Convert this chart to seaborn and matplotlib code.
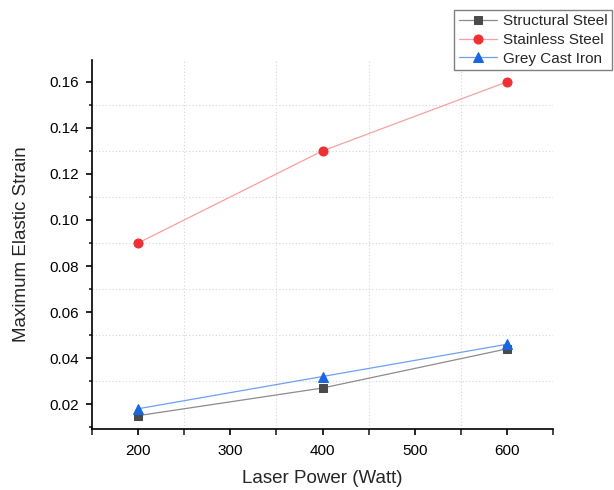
import matplotlib
matplotlib.use("Agg")
import matplotlib.pyplot as plt
import seaborn as sns
import pandas as pd
from matplotlib.ticker import MultipleLocator

sns.set_style("ticks")
plt.rcParams['font.family'] = ['Liberation Sans', 'DejaVu Sans']

power = [200, 400, 600]
structural = [0.015, 0.027, 0.044]
stainless = [0.090, 0.130, 0.160]
grey_iron = [0.018, 0.032, 0.046]
series_names = ["Structural Steel", "Stainless Steel", "Grey Cast Iron"]

df = pd.DataFrame({
    "power": power * 3,
    "strain": structural + stainless + grey_iron,
    "material": [series_names[0]] * 3 + [series_names[1]] * 3 + [series_names[2]] * 3,
})

fig = plt.figure(figsize=(6.14, 4.90), dpi=100)
ax = fig.add_axes([0.150, 0.1245, 0.7507, 0.7531])

line_colors = {series_names[0]: "#8c8c8c", series_names[1]: "#f7a0a0", series_names[2]: "#6ea0f0"}
marker_colors = {series_names[0]: "#4a4a4a", series_names[1]: "#ee3035", series_names[2]: "#1a66e0"}
markers = {series_names[0]: "s", series_names[1]: "o", series_names[2]: "^"}
sizes = {series_names[0]: 5.5, series_names[1]: 6.5, series_names[2]: 7}

for name in series_names:
    sub = df[df.material == name]
    sns.lineplot(data=sub, x="power", y="strain", ax=ax, color=line_colors[name],
                 lw=0.9, marker=markers[name], markersize=sizes[name],
                 markerfacecolor=marker_colors[name], markeredgecolor=marker_colors[name],
                 label=name, legend=False)

ax.set_xlim(150, 650)
ax.set_ylim(0.0092, 0.1695)
ax.xaxis.set_major_locator(MultipleLocator(100))
ax.xaxis.set_minor_locator(MultipleLocator(50))
ax.yaxis.set_major_locator(MultipleLocator(0.02))
ax.yaxis.set_minor_locator(MultipleLocator(0.01))
ax.yaxis.set_major_formatter(matplotlib.ticker.FormatStrFormatter("%.2f"))

# grid at minor-only positions (Origin style)
for xv in [250, 350, 450, 550]:
    ax.axvline(xv, color="#d6d6d6", lw=0.8, ls=(0, (1, 2)), zorder=0)
for yv in [0.03, 0.05, 0.07, 0.09, 0.11, 0.13, 0.15]:
    ax.axhline(yv, color="#d6d6d6", lw=0.8, ls=(0, (1, 2)), zorder=0)

for s in ["top", "right"]:
    ax.spines[s].set_visible(False)
for s in ["left", "bottom"]:
    ax.spines[s].set_linewidth(1.2)
    ax.spines[s].set_color("black")
ax.tick_params(which="major", length=4.5, width=1.2, labelsize=11, colors="black",
               direction="out", pad=5)
ax.tick_params(which="minor", length=2.5, width=1.2, direction="out")
ax.tick_params(axis="x", which="major", length=4.5, pad=6)
ax.tick_params(axis="x", which="minor", length=4)

ax.set_xlabel("Laser Power (Watt)", fontsize=13.5, labelpad=9)
ax.set_ylabel("Maximum Elastic Strain", fontsize=13.5, labelpad=14)

leg = fig.legend(loc="upper right", bbox_to_anchor=(0.997, 0.98), fontsize=11,
                 frameon=True, fancybox=False, edgecolor="#808080", framealpha=1,
                 borderpad=0.3, borderaxespad=0, handlelength=2.5, handletextpad=0.4,
                 labelspacing=0.3)
leg.get_frame().set_linewidth(1.0)

fig.savefig("out.png", dpi=100)
